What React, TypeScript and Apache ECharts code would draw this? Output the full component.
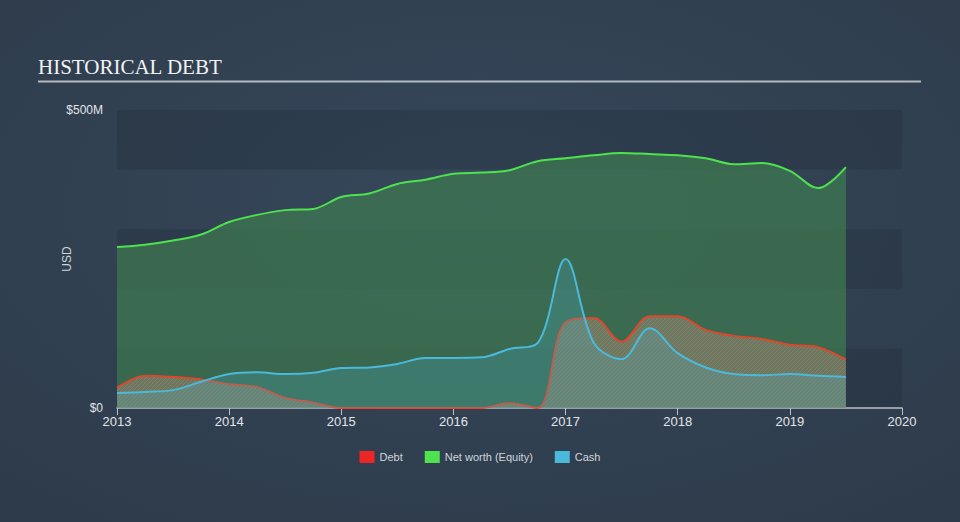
import React, { useEffect, useRef } from "react";
import * as echarts from "echarts";

const years = [
  2013.0, 2013.25, 2013.5, 2013.75, 2014.0, 2014.25, 2014.5, 2014.75,
  2015.0, 2015.25, 2015.5, 2015.75, 2016.0, 2016.25, 2016.5, 2016.75,
  2017.0, 2017.25, 2017.5, 2017.75, 2018.0, 2018.25, 2018.5, 2018.75,
  2019.0, 2019.25, 2019.5,
];
const debt = [
  34, 54, 52, 48, 40, 35, 17, 9,
  0, 0, 0, 0, 0, 0, 8, 0,
  144, 151, 111, 154, 154, 131, 121, 116,
  106, 102, 81,
];
const netWorth = [
  270, 274, 281, 291, 312, 324, 332, 334,
  354, 360, 376, 383, 393, 395, 399, 414,
  419, 424, 428, 426, 424, 419, 409, 411,
  398, 369, 404,
];
const cash = [
  25, 27, 30, 44, 57, 60, 57, 59,
  67, 68, 74, 84, 84, 85, 99, 109,
  250, 110, 82, 134, 92, 68, 57, 55,
  57, 54, 52,
];
const xTicks = [2013, 2014, 2015, 2016, 2017, 2018, 2019, 2020];

function makeHatch() {
  const c = document.createElement("canvas");
  c.width = 4;
  c.height = 4;
  const ctx = c.getContext("2d")!;
  ctx.fillStyle = "rgba(175,175,165,0.3)";
  ctx.fillRect(0, 0, 4, 4);
  ctx.fillStyle = "rgba(235,95,55,0.6)";
  for (let i = 0; i < 4; i++) {
    ctx.fillRect(i, 3 - i, 1, 1);
  }
  return c;
}

export default function App() {
  const ref = useRef<HTMLDivElement>(null);
  useEffect(() => {
    if (!ref.current) return;
    const chart = echarts.init(ref.current, null, { renderer: "svg" });
    const pair = (arr: number[]) => years.map((y, i) => [y, arr[i]]);
    const hatch = makeHatch();
    const font = "'Liberation Sans', Arial, sans-serif";
    const sm = 0.35;
    chart.setOption({
      animation: false,
      backgroundColor: new echarts.graphic.RadialGradient(0.5, 0.4, 0.8, [
        { offset: 0, color: "#36485b" },
        { offset: 1, color: "#2d3a49" },
      ]),
      textStyle: { fontFamily: font },
      graphic: [
        {
          type: "text",
          left: 38,
          top: 56,
          style: {
            text: "HISTORICAL DEBT",
            fill: "#f2f2f2",
            font: "21px 'Liberation Serif', 'Times New Roman', serif",
          },
        },
        {
          type: "line",
          shape: { x1: 38, y1: 81.5, x2: 921, y2: 81.5 },
          style: { stroke: "#b4bac2", lineWidth: 2 },
        },
      ],
      legend: {
        left: "center",
        top: 446,
        data: ["Debt", "Net worth (Equity)", "Cash"],
        icon: "rect",
        itemWidth: 15,
        itemHeight: 12,
        itemGap: 22,
        textStyle: { color: "#cfd4da", fontSize: 11, fontFamily: font },
      },
      grid: { left: 117, right: 58, top: 110, bottom: 114 },
      xAxis: {
        type: "value",
        min: 2013,
        max: 2020,
        interval: 1,
        axisLine: { show: true, lineStyle: { color: "#b9c0c8", width: 1.5 } },
        axisTick: { show: true, length: 7, lineStyle: { color: "#b9c0c8" } },
        axisLabel: {
          color: "#e2e5e9",
          fontSize: 13,
          margin: 7,
          formatter: (v: number) => (xTicks.includes(Math.round(v)) ? String(Math.round(v)) : ""),
        },
        splitLine: { show: false },
      },
      yAxis: {
        type: "value",
        min: 0,
        max: 500,
        interval: 100,
        name: "USD",
        nameLocation: "middle",
        nameGap: 44,
        nameMoveOverlap: false,
        nameRotate: 90,
        nameTextStyle: { color: "#cfd4da", fontSize: 12, fontFamily: font },
        axisLine: { show: false },
        axisTick: { show: false },
        axisLabel: {
          color: "#e2e5e9",
          fontSize: 12,
          margin: 14,
          formatter: (v: number) => (v === 0 ? "$0" : v === 500 ? "$500M" : ""),
        },
        splitLine: { show: false },
        splitArea: {
          show: true,
          areaStyle: { color: ["rgba(20,30,42,0.2)", "rgba(255,255,255,0.0)"] },
        },
      },
      series: [
        {
          name: "Net worth (Equity)",
          type: "line",
          data: pair(netWorth),
          smooth: sm,
          showSymbol: false,
          lineStyle: { color: "#4ee24e", width: 2 },
          itemStyle: { color: "#4ee24e" },
          areaStyle: { color: "rgba(62,120,80,0.75)", opacity: 1 },
          z: 1,
        },
        {
          name: "Cash",
          type: "line",
          data: pair(cash),
          smooth: sm,
          showSymbol: false,
          lineStyle: { color: "#4bb9dc", width: 2 },
          itemStyle: { color: "#4bb9dc" },
          areaStyle: { color: "rgba(75,175,200,0.25)", opacity: 1 },
          z: 3,
        },
        {
          name: "Debt",
          type: "line",
          data: pair(debt),
          smooth: sm,
          showSymbol: false,
          lineStyle: { color: "#e0462a", width: 2 },
          itemStyle: { color: "#ec2525" },
          areaStyle: {
            color: { image: hatch, repeat: "repeat", imageWidth: 4, imageHeight: 4 },
            opacity: 1,
          },
          z: 2,
        },
      ],
    });
    return () => chart.dispose();
  }, []);
  return (
    <div
      ref={ref}
      style={{ position: "absolute", left: 0, top: 0, width: 960, height: 522 }}
    />
  );
}
